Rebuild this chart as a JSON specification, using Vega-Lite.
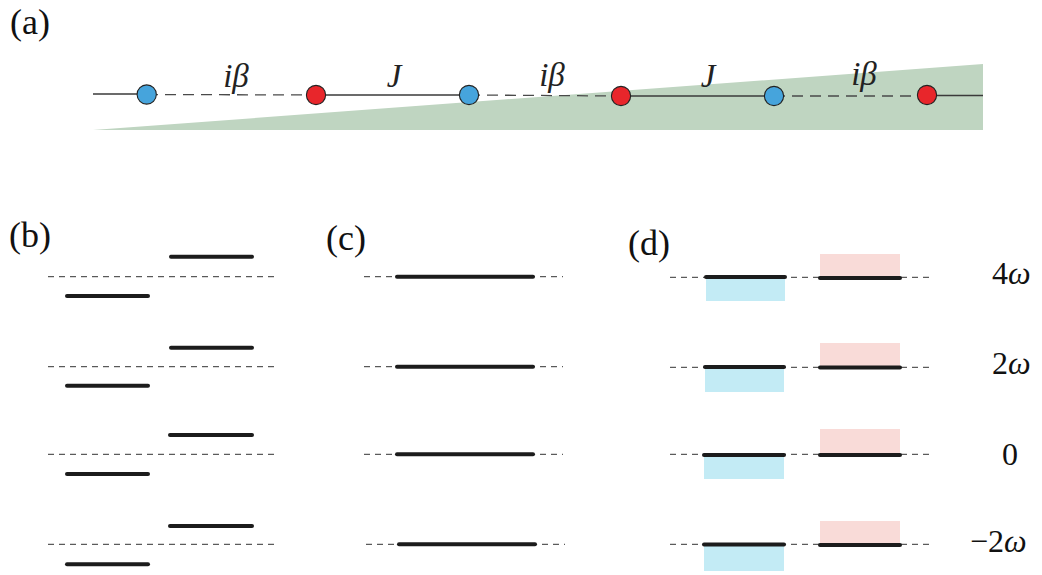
{
  "$schema": "https://vega.github.io/schema/vega-lite/v6.json",
  "width": 1042,
  "height": 575,
  "padding": 0,
  "autosize": {"type": "fit", "contains": "padding"},
  "config": {"view": {"stroke": null}},
  "datasets": {
    "tri": [{"x": 93, "y": 130, "y2": 130}, {"x": 983, "y": 64, "y2": 130}],
    "chain": [
      {"x": 93, "y": 94, "x2": 147, "y2": 94, "style": "solid"},
      {"x": 147, "y": 94.5, "x2": 316, "y2": 95, "style": "dashed"},
      {"x": 316, "y": 95, "x2": 469, "y2": 95, "style": "solid"},
      {"x": 469, "y": 95, "x2": 621, "y2": 96, "style": "dashed"},
      {"x": 621, "y": 96, "x2": 774, "y2": 96, "style": "solid"},
      {"x": 774, "y": 96, "x2": 927, "y2": 96, "style": "dashed"},
      {"x": 927, "y": 95.5, "x2": 983, "y2": 95.5, "style": "solid"}
    ],
    "nodes": [
      {"x": 146.7, "y": 94.5, "site": "A"},
      {"x": 316, "y": 95, "site": "B"},
      {"x": 469, "y": 95, "site": "A"},
      {"x": 621, "y": 96, "site": "B"},
      {"x": 774, "y": 96, "site": "A"},
      {"x": 927, "y": 95, "site": "B"}
    ],
    "couplings": [
      {"x": 236, "y": 77, "label": "iβ"},
      {"x": 394, "y": 77, "label": "J"},
      {"x": 552, "y": 76, "label": "iβ"},
      {"x": 708, "y": 77, "label": "J"},
      {"x": 864, "y": 75, "label": "iβ"}
    ],
    "panels": [
      {"x": 30, "y": 23, "label": "(a)"},
      {"x": 30, "y": 236, "label": "(b)"},
      {"x": 346, "y": 239, "label": "(c)"},
      {"x": 649, "y": 244, "label": "(d)"}
    ],
    "energyNums": [
      {"x": 1008, "y": 274, "label": "4"},
      {"x": 1008, "y": 364, "label": "2"},
      {"x": 1018, "y": 455, "label": "0"},
      {"x": 1004, "y": 542, "label": "−2"}
    ],
    "energySyms": [
      {"x": 1008, "y": 274, "label": "ω"},
      {"x": 1008, "y": 364, "label": "ω"},
      {"x": 1004, "y": 542, "label": "ω"}
    ],
    "levels": [
      {"x": 48, "x2": 275, "y": 276.7},
      {"x": 48, "x2": 275, "y": 366.7},
      {"x": 48, "x2": 275, "y": 454.3},
      {"x": 48, "x2": 275, "y": 544.3},
      {"x": 364, "x2": 563, "y": 276.7},
      {"x": 364, "x2": 563, "y": 366.7},
      {"x": 364, "x2": 563, "y": 454.3},
      {"x": 366, "x2": 565, "y": 544.3},
      {"x": 670, "x2": 933, "y": 277.3},
      {"x": 670, "x2": 933, "y": 367.3},
      {"x": 670, "x2": 933, "y": 454.3},
      {"x": 670, "x2": 933, "y": 544.3}
    ],
    "bars": [
      {"x": 171, "x2": 252, "y": 256.7},
      {"x": 171, "x2": 252, "y": 347.7},
      {"x": 170, "x2": 252, "y": 435},
      {"x": 170, "x2": 252, "y": 526},
      {"x": 67, "x2": 148, "y": 296},
      {"x": 67, "x2": 148, "y": 385.7},
      {"x": 67, "x2": 148, "y": 474},
      {"x": 67, "x2": 148, "y": 564.3},
      {"x": 397, "x2": 533, "y": 276.7},
      {"x": 397, "x2": 533, "y": 366.7},
      {"x": 397, "x2": 533, "y": 454.3},
      {"x": 399, "x2": 535, "y": 544.3},
      {"x": 706, "x2": 785, "y": 277},
      {"x": 705, "x2": 784, "y": 367},
      {"x": 704, "x2": 784, "y": 455},
      {"x": 704, "x2": 784, "y": 544.5},
      {"x": 820, "x2": 900, "y": 278},
      {"x": 820, "x2": 900, "y": 367.5},
      {"x": 820, "x2": 900, "y": 455},
      {"x": 820, "x2": 900, "y": 545}
    ],
    "rects": [
      {"x": 706, "x2": 785, "y": 277, "y2": 301, "band": "lower"},
      {"x": 705, "x2": 784, "y": 367, "y2": 392, "band": "lower"},
      {"x": 704, "x2": 784, "y": 455, "y2": 479, "band": "lower"},
      {"x": 704, "x2": 784, "y": 544, "y2": 571, "band": "lower"},
      {"x": 820, "x2": 900, "y": 254, "y2": 277, "band": "upper"},
      {"x": 820, "x2": 900, "y": 343, "y2": 367, "band": "upper"},
      {"x": 820, "x2": 900, "y": 429, "y2": 454, "band": "upper"},
      {"x": 820, "x2": 900, "y": 521, "y2": 545, "band": "upper"}
    ]
  },
  "encoding": {
    "x": {"field": "x", "type": "quantitative", "scale": {"domain": [0, 1042], "nice": false, "zero": false}, "axis": null},
    "y": {"field": "y", "type": "quantitative", "scale": {"domain": [0, 575], "reverse": true, "nice": false, "zero": false}, "axis": null}
  },
  "layer": [
    {
      "data": {"name": "tri"},
      "mark": {"type": "area", "color": "#bfd5c1", "opacity": 1},
      "encoding": {"y2": {"field": "y2"}}
    },
    {
      "data": {"name": "chain"},
      "transform": [{"filter": "datum.style === 'solid'"}],
      "mark": {"type": "rule", "color": "#3a3a3a", "strokeWidth": 1.3},
      "encoding": {"x2": {"field": "x2"}, "y2": {"field": "y2"}}
    },
    {
      "data": {"name": "chain"},
      "transform": [{"filter": "datum.style === 'dashed'"}],
      "mark": {"type": "rule", "color": "#4a4a4a", "strokeWidth": 1.3, "strokeDash": [11, 7]},
      "encoding": {"x2": {"field": "x2"}, "y2": {"field": "y2"}}
    },
    {
      "data": {"name": "nodes"},
      "mark": {"type": "point", "shape": "circle", "filled": true, "size": 370, "stroke": "#222222", "strokeWidth": 1.1, "opacity": 1},
      "encoding": {
        "fill": {"field": "site", "type": "nominal", "scale": {"domain": ["A", "B", "lower", "upper"], "range": ["#46a4dc", "#e8262b", "#c3ebf5", "#f9dbd8"]}, "legend": null}
      }
    },
    {
      "data": {"name": "couplings"},
      "mark": {"type": "text", "font": "Liberation Serif", "fontSize": 33, "fontStyle": "italic", "color": "#222222", "baseline": "middle", "align": "center"},
      "encoding": {"text": {"field": "label"}}
    },
    {
      "data": {"name": "rects"},
      "mark": {"type": "rect", "opacity": 1},
      "encoding": {
        "x2": {"field": "x2"}, "y2": {"field": "y2"},
        "fill": {"field": "band", "type": "nominal", "scale": {"domain": ["A", "B", "lower", "upper"], "range": ["#46a4dc", "#e8262b", "#c3ebf5", "#f9dbd8"]}, "legend": null}
      }
    },
    {
      "data": {"name": "levels"},
      "mark": {"type": "rule", "color": "#333333", "strokeWidth": 1, "strokeDash": [6, 5]},
      "encoding": {"x2": {"field": "x2"}}
    },
    {
      "data": {"name": "bars"},
      "mark": {"type": "rule", "color": "#1c1c1c", "strokeWidth": 4, "strokeCap": "round"},
      "encoding": {"x2": {"field": "x2"}}
    },
    {
      "data": {"name": "panels"},
      "mark": {"type": "text", "font": "Liberation Serif", "fontSize": 36, "color": "#111111", "baseline": "middle", "align": "center"},
      "encoding": {"text": {"field": "label"}}
    },
    {
      "data": {"name": "energyNums"},
      "mark": {"type": "text", "font": "Liberation Serif", "fontSize": 32, "color": "#111111", "baseline": "middle", "align": "right"},
      "encoding": {"text": {"field": "label"}}
    },
    {
      "data": {"name": "energySyms"},
      "mark": {"type": "text", "font": "Liberation Serif", "fontSize": 32, "fontStyle": "italic", "color": "#111111", "baseline": "middle", "align": "left"},
      "encoding": {"text": {"field": "label"}}
    }
  ]
}
